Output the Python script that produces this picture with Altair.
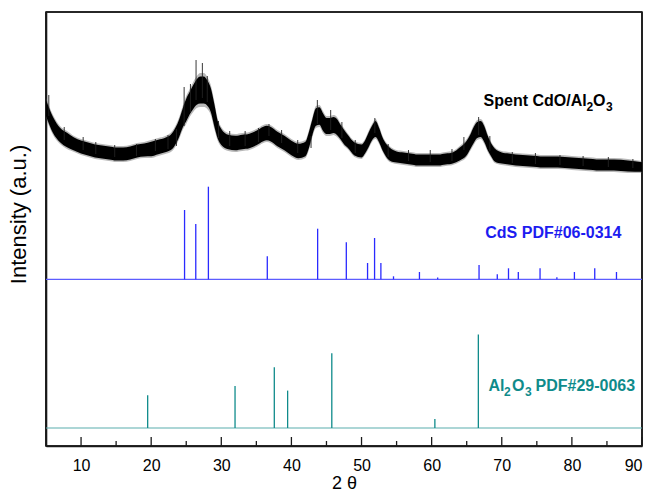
import altair as alt
import pandas as pd

# ---- Spent CdO/Al2O3 pattern: centre of the noisy trace and its noise half-width (a.u.)
spent_x = [5.0, 6.0, 7.0, 8.0, 9.0, 10.0, 11.0, 12.0, 13.0, 14.0, 15.0, 16.0, 17.0, 18.0,
           19.0, 20.0, 21.0, 22.0, 23.0, 24.0, 24.5, 25.0, 25.5, 26.0, 26.5, 27.0, 27.5,
           28.0, 28.5, 29.0, 29.5, 30.0, 31.0, 32.0, 33.0, 34.0, 35.0, 36.0, 36.5, 37.0,
           38.0, 39.0, 40.0, 41.0, 42.0, 42.5, 43.0, 43.5, 44.0, 44.5, 45.0, 45.5, 46.0,
           46.5, 47.0, 47.5, 48.0, 49.0, 50.0, 50.5, 51.0, 51.5, 52.0, 52.5, 53.0, 54.0,
           55.0, 56.0, 57.0, 58.0, 59.0, 60.0, 61.0, 62.0, 63.0, 64.0, 65.0, 65.5, 66.0,
           66.5, 67.0, 67.5, 68.0, 68.5, 69.0, 70.0, 71.0, 72.0, 74.0, 76.0, 78.0, 80.0,
           82.0, 84.0, 86.0, 88.0, 90.0]
spent_mid = [338, 321, 311, 306, 302, 299, 297, 295, 294, 293, 292, 292, 293, 295,
             296, 297, 299, 301, 305, 318, 328, 336, 343, 349, 354, 356, 356,
             353, 346, 331, 316, 309, 304, 303, 304, 305, 308, 312, 313, 312,
             307, 303, 298, 295, 297, 306, 319, 329, 330, 324, 320, 320, 321,
             319, 314, 309, 305, 297, 295, 299, 306, 313, 317, 311, 302, 292,
             289, 288, 287, 286, 286, 286, 286, 287, 288, 292, 298, 304, 311,
             316, 317, 312, 303, 296, 291, 288, 287, 286, 285, 284, 284, 283,
             282, 281, 281, 280, 279]
spent_noise = [10, 10, 9, 9, 8, 8, 8, 8, 8, 8, 8, 8, 8, 8,
               8, 9, 9, 9, 10, 11, 12, 14, 14, 15, 16, 17, 17,
               16, 15, 14, 11, 10, 9, 9, 9, 9, 9, 9, 9, 9,
               9, 9, 9, 9, 9, 10, 10, 11, 11, 11, 10, 10, 10,
               10, 9, 9, 8, 8, 8, 8, 9, 9, 10, 9, 8, 8,
               7, 7, 7, 7, 7, 7, 7, 7, 7, 8, 9, 9, 10,
               10, 10, 10, 9, 8, 8, 7, 7, 7, 7, 7, 7, 7,
               7, 7, 7, 7, 6]
# tallest individual noise spikes (top and bottom end of each)
spike_x = [5.4, 7.6, 10.3, 12.1, 14.8, 17.9, 20.6, 22.4, 23.6, 24.7, 25.6, 26.4, 27.3,
           28.0, 29.6, 31.2, 33.4, 35.3, 36.8, 38.6, 40.9, 42.8, 43.7, 45.6, 47.2, 49.1,
           51.9, 53.8, 56.7, 59.8, 62.9, 64.6, 66.7, 68.3, 71.5, 74.8, 78.3, 81.6, 85.2, 88.7]
spike_top = [351, 319, 309, 304, 301, 302, 307, 311, 317, 359, 362, 386, 383,
             370, 325, 315, 315, 318, 322, 316, 306, 310, 346, 336, 324, 306,
             328, 302, 296, 296, 297, 309, 329, 310, 294, 293, 291, 290, 289, 287]
spike_bot = [330, 306, 296, 292, 289, 290, 295, 297, 300, 320, 334, 346, 348,
             344, 308, 300, 300, 304, 310, 303, 293, 298, 322, 316, 308, 293,
             313, 289, 285, 284, 285, 296, 311, 295, 283, 282, 281, 280, 279, 278]

# ---- CdS PDF#06-0314 sticks
cds_x = [24.76, 26.36, 28.16, 36.56, 43.74, 47.83, 50.86, 51.86, 52.76, 54.56, 58.26,
         60.86, 66.76, 69.36, 70.96, 72.36, 75.46, 77.86, 80.36, 83.26, 86.36]
cds_h = [69.3, 55.3, 92.6, 23.0, 50.6, 37.0, 16.3, 41.3, 16.3, 3.0, 7.3,
         1.7, 14.3, 5.0, 11.0, 7.3, 11.0, 2.0, 7.3, 11.0, 7.3]
CDS_BASE = 166.7

# ---- Al2O3 PDF#29-0063 sticks
al_x = [19.50, 31.96, 37.56, 39.46, 45.76, 60.46, 66.66]
al_h = [32.7, 42.0, 60.7, 37.4, 74.7, 9.0, 93.4]
AL_BASE = 18.0

major_ticks = [10.0, 20.0, 30.0, 40.0, 50.0, 60.0, 70.0, 80.0, 90.0]
minor_ticks = [15.0, 25.0, 35.0, 45.0, 55.0, 65.0, 75.0, 85.0]
X_MIN, X_MAX = 5.0, 90.0
Y_MIN, Y_MAX = 0.0, 434.0

INK = "#1a1a1a"
BLUE = "#2a2aff"
BLUE_TXT = "#1c1cf0"
TEAL = "#0f8b8b"
TEAL_BASE = "#5aadad"
FONT = "Liberation Sans"

W, H = 596, 434

xscale = alt.Scale(domain=[X_MIN, X_MAX], nice=False, zero=False)
yscale = alt.Scale(domain=[Y_MIN, Y_MAX], nice=False, zero=False)

xaxis = alt.Axis(values=major_ticks, title="2 θ", labelFontSize=16,
                 titleFontSize=18, titleFontWeight="normal", labelFont=FONT,
                 titleFont=FONT, ticks=False, domain=True, domainColor=INK,
                 domainWidth=1.6, grid=False, labelPadding=11, titlePadding=1,
                 labelColor="#000000", titleColor="#000000", format="d")
yaxis = alt.Axis(labels=False, ticks=False, domain=True, domainColor=INK,
                 domainWidth=1.6, grid=False, title="Intensity (a.u.)",
                 titleFontSize=22, titleFont=FONT, titleFontWeight="normal",
                 titlePadding=16, titleColor="#000000", titleY=202)

# inward ticks on the bottom axis (length in y units, 1 unit = 1 px)
tick_df = pd.DataFrame({
    "x": major_ticks + minor_ticks,
    "base": [Y_MIN] * (len(major_ticks) + len(minor_ticks)),
    "top": [Y_MIN + 9] * len(major_ticks) + [Y_MIN + 5] * len(minor_ticks),
})
ticks = alt.Chart(tick_df).mark_rule(color=INK, strokeWidth=1.3).encode(
    x=alt.X("x:Q", scale=xscale, axis=xaxis),
    y=alt.Y("base:Q", scale=yscale, axis=yaxis),
    y2="top:Q")

# plot frame
frame_v = alt.Chart(pd.DataFrame({"x": [X_MIN, X_MAX], "base": [Y_MIN, Y_MIN],
                                  "top": [Y_MAX, Y_MAX]})).mark_rule(
    color=INK, strokeWidth=1.6).encode(x="x:Q", y="base:Q", y2="top:Q")
frame_h = alt.Chart(pd.DataFrame({"b": [Y_MIN, Y_MAX]})).mark_rule(
    color=INK, strokeWidth=1.6).encode(y="b:Q")

spent = pd.DataFrame({"x": spent_x, "mid": spent_mid, "noise": spent_noise})
spent["upper"] = spent["mid"] + spent["noise"]
spent["lower"] = spent["mid"] - spent["noise"]
spent["cu"] = spent["mid"] + 0.8 * spent["noise"]
spent["cl"] = spent["mid"] - 0.8 * spent["noise"]

outer = alt.Chart(spent).mark_area(color="#505050", opacity=0.4,
                                   interpolate="monotone").encode(
    x="x:Q", y="upper:Q", y2="lower:Q")
core = alt.Chart(spent).mark_area(color="#000000", interpolate="monotone").encode(
    x="x:Q", y="cu:Q", y2="cl:Q")

spikes = alt.Chart(pd.DataFrame({"x": spike_x, "t": spike_top, "b": spike_bot})).mark_rule(
    color="#222222", strokeWidth=0.9).encode(x="x:Q", y="t:Q", y2="b:Q")

cds = pd.DataFrame({"x": cds_x, "h": cds_h})
cds["base"] = CDS_BASE
cds["top"] = CDS_BASE + cds["h"]
cds_sticks = alt.Chart(cds).mark_rule(color=BLUE, strokeWidth=1.3).encode(
    x="x:Q", y="base:Q", y2="top:Q")
cds_base = alt.Chart(pd.DataFrame({"b": [CDS_BASE]})).mark_rule(
    color="#5c5cff", strokeWidth=1.2).encode(y="b:Q")

al = pd.DataFrame({"x": al_x, "h": al_h})
al["base"] = AL_BASE
al["top"] = AL_BASE + al["h"]
al_sticks = alt.Chart(al).mark_rule(color=TEAL, strokeWidth=1.3).encode(
    x="x:Q", y="base:Q", y2="top:Q")
al_base = alt.Chart(pd.DataFrame({"b": [AL_BASE]})).mark_rule(
    color=TEAL_BASE, strokeWidth=1.2).encode(y="b:Q")

one = pd.DataFrame({"a": [0]})


def frag(text, x, y, dx, dy, size, color):
    return alt.Chart(one).mark_text(
        text=text, align="left", baseline="alphabetic", dx=dx, dy=dy,
        fontSize=size, fontWeight="bold", font=FONT, color=color,
    ).encode(x=alt.datum(x), y=alt.datum(y))


labels = [
    # Spent CdO/Al2O3
    frag("Spent CdO/Al", 67.41, 340.3, 0, 0, 16, "#000000"),
    frag("2", 67.41, 340.3, 103, 5, 12, "#000000"),
    frag("O", 67.41, 340.3, 109.5, 0, 16, "#000000"),
    frag("3", 67.41, 340.3, 122.5, 5, 12, "#000000"),
    # CdS
    frag("CdS PDF#06-0314", 67.65, 207.7, 0, 0, 16, BLUE_TXT),
    # Al2O3
    frag("Al", 68.11, 55.3, 0, 0, 16, TEAL),
    frag("2", 68.11, 55.3, 15.5, 5, 12, TEAL),
    frag("O", 68.11, 55.3, 23.5, 0, 16, TEAL),
    frag("3", 68.11, 55.3, 36.5, 5, 12, TEAL),
    frag("PDF#29-0063", 68.11, 55.3, 47, 0, 16, TEAL),
]

chart = alt.layer(
    ticks, frame_v, frame_h, al_base, al_sticks, cds_base, cds_sticks,
    outer, core, spikes, *labels
).properties(
    width=W, height=H,
    autosize=alt.AutoSizeParams(type="none"),
    padding={"left": 46, "top": 12, "right": 14, "bottom": 47},
    background="white",
).configure_view(stroke=INK, strokeWidth=1.6)

chart.save("out.html", embed_options={"renderer": "svg", "actions": False})
